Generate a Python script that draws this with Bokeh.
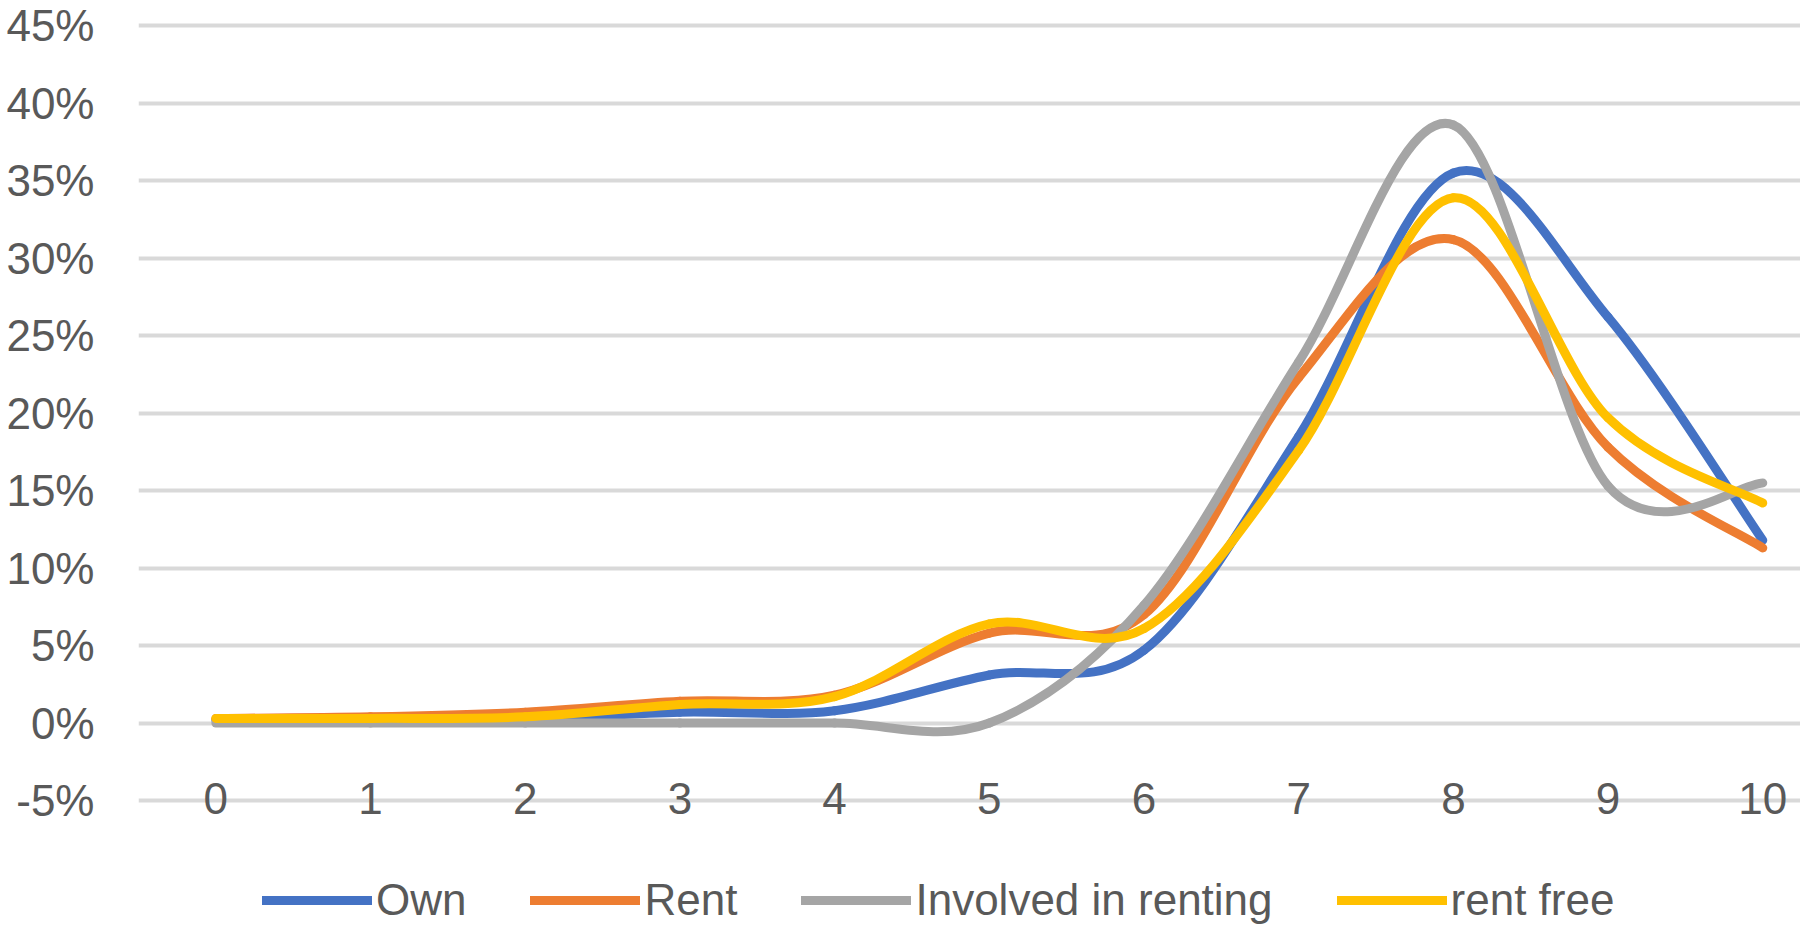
from bokeh.plotting import figure
from bokeh.models import (ColumnDataSource, Range1d, FixedTicker, PrintfTickFormatter,
                          Legend, LegendItem)
from bokeh.core.properties import value
from bokeh.embed import file_html
from bokeh.resources import INLINE

# ---- data (values in percent) ----
categories = [0, 1, 2, 3, 4, 5, 6, 7, 8, 9, 10]
x_labels = ["0", "1", "2", "3", "4", "5", "6", "7", "8", "9", "10"]
own = [0.2, 0.3, 0.3, 0.7, 0.8, 3.1, 4.7, 18.5, 35.5, 26.2, 11.8]
rent = [0.3, 0.4, 0.7, 1.4, 1.8, 5.8, 7.0, 22.3, 31.2, 17.8, 11.3]
involved = [0.0, 0.0, 0.0, 0.0, 0.0, 0.0, 7.6, 23.3, 38.6, 15.3, 15.5]
rent_free = [0.3, 0.3, 0.4, 1.2, 1.7, 6.4, 6.1, 17.6, 33.9, 19.7, 14.2]
y_ticks = [-5, 0, 5, 10, 15, 20, 25, 30, 35, 40, 45]

series = [
    ("Own", own, "#4472C4"),
    ("Rent", rent, "#ED7D31"),
    ("Involved in renting", involved, "#A5A5A5"),
    ("rent free", rent_free, "#FFC000"),
]

FONT = "Liberation Sans"
TXT = "#595959"

p = figure(width=1800, height=926, output_backend="svg", toolbar_location=None,
           x_range=Range1d(-0.5, 10.244), y_range=Range1d(-13.13, 45.665),
           x_axis_location=None)
p.min_border_left = 138
p.min_border_right = 0
p.min_border_top = 15
p.min_border_bottom = 0
p.outline_line_color = None
p.background_fill_color = "white"
p.border_fill_color = "white"

p.xgrid.visible = False
p.ygrid.ticker = FixedTicker(ticks=y_ticks)
p.ygrid.grid_line_color = "#D9D9D9"
p.ygrid.grid_line_width = 4

yax = p.yaxis[0]
yax.ticker = FixedTicker(ticks=y_ticks)
yax.formatter = PrintfTickFormatter(format="%d%%")
yax.axis_line_color = None
yax.major_tick_line_color = None
yax.minor_tick_line_color = None
yax.major_tick_out = 0
yax.major_tick_in = 0
yax.major_label_standoff = 44
yax.major_label_text_font = FONT
yax.major_label_text_font_size = "44px"
yax.major_label_text_color = TXT

# x category labels sitting on the -5% gridline
lab_src = ColumnDataSource(dict(x=categories, y=[-5] * len(categories), t=x_labels))
p.text(x="x", y="y", text="t", source=lab_src, text_align="center",
       text_baseline="alphabetic", y_offset=-2, text_font=value(FONT),
       text_font_size="44px", text_color=TXT)


def smooth_segments(xs, ys):
    n = len(xs)
    d = dict(x0=[], y0=[], x1=[], y1=[], cx0=[], cy0=[], cx1=[], cy1=[])
    for i in range(n - 1):
        im1 = max(i - 1, 0)
        ip2 = min(i + 2, n - 1)
        d["x0"].append(xs[i]); d["y0"].append(ys[i])
        d["x1"].append(xs[i + 1]); d["y1"].append(ys[i + 1])
        d["cx0"].append(xs[i] + (xs[i + 1] - xs[im1]) / 6.0)
        d["cy0"].append(ys[i] + (ys[i + 1] - ys[im1]) / 6.0)
        d["cx1"].append(xs[i + 1] - (xs[ip2] - xs[i]) / 6.0)
        d["cy1"].append(ys[i + 1] - (ys[ip2] - ys[i]) / 6.0)
    return d


items = []
for name, vals, color in series:
    src = ColumnDataSource(smooth_segments(categories, vals))
    r = p.bezier(x0="x0", y0="y0", x1="x1", y1="y1", cx0="cx0", cy0="cy0",
                 cx1="cx1", cy1="cy1", source=src, line_color=color,
                 line_width=9, line_cap="round", line_join="round")
    items.append(LegendItem(label=name, renderers=[r]))

legend = Legend(items=items, orientation="horizontal", location=(124, 1))
legend.border_line_color = None
legend.background_fill_alpha = 0
legend.padding = 0
legend.margin = 0
legend.spacing = 64
legend.glyph_width = 110
legend.glyph_height = 36
legend.label_height = 36
legend.label_standoff = 4
legend.label_text_font = FONT
legend.label_text_font_size = "44px"
legend.label_text_color = TXT
legend.label_text_baseline = "middle"
p.add_layout(legend)

open("out.html", "w").write(file_html(p, INLINE))
